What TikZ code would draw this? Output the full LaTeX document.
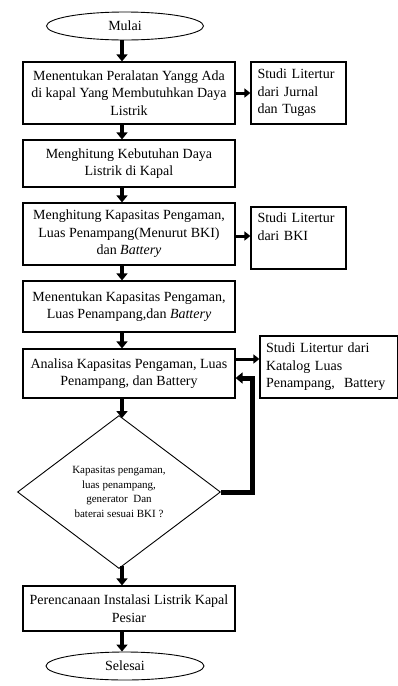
\documentclass[tikz,border=0pt]{standalone}
\usepackage{fontspec}
\setmainfont{Liberation Serif}
\usetikzlibrary{arrows.meta,shapes.geometric,calc}
\begin{document}
\begin{tikzpicture}[x=1pt,y=-1pt,
  box/.style={draw,line width=1.2pt,minimum width=212pt,inner sep=0pt,align=center,font=\fontsize{14}{17.5}\selectfont},
  side/.style={draw,line width=1.2pt,inner sep=0pt,align=left,font=\fontsize{14}{17.5}\selectfont},
  term/.style={draw,ellipse,line width=0.9pt,minimum width=157pt,minimum height=28pt,inner sep=0pt,font=\fontsize{14}{17}\selectfont},
  flow/.style={line width=4pt,-{Triangle[width=11pt,length=7pt]}},
  sidearr/.style={line width=3pt,-{Triangle[width=9pt,length=6pt]}},
  fb/.style={line width=5pt,-{Triangle[width=11pt,length=7pt]}}]
\useasboundingbox (0,0) rectangle (398,686);
\coordinate (ax) at (122,0);
\node[term] (mulai) at (125,26) {Mulai};
\node[box,minimum height=62pt] (b1) at (129,93) {Menentukan Peralatan Yangg Ada\\di kapal Yang Membutuhkan Daya\\Listrik};
\node[side,minimum width=95pt,minimum height=62pt,text width=84pt] (r1) at (298.5,93) {\hspace*{1pt}Studi Litertur\\\hspace*{1pt}dari Jurnal\\\hspace*{1pt}dan Tugas};
\node[box,minimum height=47pt] (b2) at (129,163.5) {Menghitung Kebutuhan Daya\\Listrik di Kapal};
\node[box,minimum height=62pt] (b3) at (129,234) {Menghitung Kapasitas Pengaman,\\Luas Penampang(Menurut BKI)\\dan \textit{Battery}};
\node[side,minimum width=95pt,minimum height=62pt,text width=84pt] (r3) at (298.5,238) {\hspace*{1pt}Studi Litertur\\\hspace*{1pt}dari BKI\\\strut};
\node[box,minimum height=51pt] (b4) at (129,306.5) {Menentukan Kapasitas Pengaman,\\Luas Penampang,dan \textit{Battery}};
\node[box,minimum height=49pt] (b5) at (129,373.5) {Analisa Kapasitas Pengaman, Luas\\Penampang, dan Battery};
\node[side,minimum width=138pt,minimum height=62pt,text width=128pt] (r5) at (329,367) {\hspace*{1pt}Studi Litertur dari\\\hspace*{1pt}Katalog Luas\\\hspace*{1pt}Penampang,\ \ Battery};
\node[draw,diamond,line width=0.9pt,minimum width=203pt,minimum height=153pt,inner sep=0pt,align=center,font=\fontsize{11}{14.7}\selectfont] (dia) at (119,492) {Kapasitas pengaman,\\luas penampang,\\generator\ \ Dan\\baterai sesuai BKI ?};
\node[box,minimum height=45pt] (b6) at (129,608.5) {Perencanaan Instalasi Listrik Kapal\\Pesiar};
\node[term,minimum width=158pt] (sel) at (125,666) {Selesai};
% vertical flow
\draw[flow] (mulai.south -| ax) -- (b1.north -| ax);
\draw[flow] (b1.south -| ax) -- (b2.north -| ax);
\draw[flow] (b2.south -| ax) -- (b3.north -| ax);
\draw[flow] (b3.south -| ax) -- (b4.north -| ax);
\draw[flow] (b4.south -| ax) -- (b5.north -| ax);
\draw[flow] (b5.south -| ax) -- ($(dia.north -| ax)+(0,3)$);
\draw[flow] ($(dia.south -| ax)+(0,-3)$) -- (b6.north -| ax);
\draw[flow] (b6.south -| ax) -- (sel.north -| ax);
% side arrows
\draw[sidearr] (b1.east) -- (r1.west |- b1.east);
\draw[sidearr] ($(b3.east)+(0,2)$) -- ($(r3.west |- b3.east)+(0,2)$);
\draw[sidearr] ($(b5.east)+(0,-14.5)$) -- ($(r5.west |- b5.east)+(0,-14.5)$);
% feedback
\draw[fb,line join=miter] (dia.east) -- ++(32,0) |- ($(b5.east)+(0,4.5)$);
\end{tikzpicture}
\end{document}
